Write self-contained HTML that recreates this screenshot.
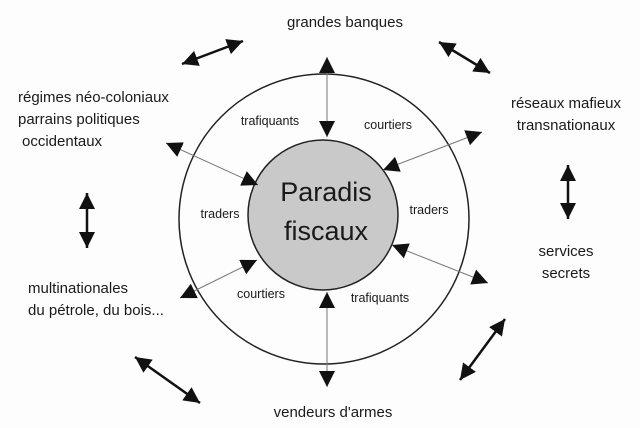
<!DOCTYPE html>
<html><head><style>body{margin:0;background:#fdfdfd}svg{display:block}text{font-family:"Liberation Sans",sans-serif;fill:#1a1a1a}</style></head><body>
<svg width="640" height="428" viewBox="0 0 640 428">
<defs>
<marker id="a" viewBox="0 0 10 10" refX="10" refY="5" markerWidth="16" markerHeight="16" markerUnits="userSpaceOnUse" orient="auto-start-reverse"><path d="M0,0L10,5L0,10z" fill="#111"/></marker>
<marker id="b" viewBox="0 0 10 10" refX="10" refY="5" markerWidth="16" markerHeight="16" markerUnits="userSpaceOnUse" orient="auto-start-reverse"><path d="M0,0L10,5L0,10z" fill="#111"/></marker>
</defs>
<rect width="640" height="428" fill="#fdfdfd"/>
<circle cx="324" cy="219" r="145" fill="none" stroke="#222" stroke-width="1.5"/>
<circle cx="323" cy="215" r="75" fill="#c9c9c9" stroke="#222" stroke-width="1.5"/>
<g stroke="#777" stroke-width="1" fill="none" marker-start="url(#a)" marker-end="url(#a)">
<line x1="327" y1="57" x2="327" y2="137"/>
<line x1="327" y1="292" x2="327" y2="387"/>
<line x1="166" y1="143" x2="258" y2="185"/>
<line x1="482" y1="132" x2="383" y2="170"/>
<line x1="392" y1="245" x2="488" y2="283"/>
<line x1="257" y1="260" x2="180" y2="298"/>
</g>
<g stroke="#111" stroke-width="2.5" fill="none" marker-start="url(#b)" marker-end="url(#b)">
<line x1="182" y1="64" x2="243" y2="41"/>
<line x1="439" y1="42" x2="490" y2="73"/>
<line x1="568" y1="165" x2="568" y2="219"/>
<line x1="87" y1="193" x2="87" y2="248"/>
<line x1="135" y1="357" x2="200" y2="403"/>
<line x1="460" y1="380" x2="505" y2="319"/>
</g>
<g font-size="15">
<text x="345" y="27" text-anchor="middle">grandes banques</text>
<text x="18" y="102">régimes néo-coloniaux</text>
<text x="18" y="124">parrains politiques</text>
<text x="22" y="146">occidentaux</text>
<text x="566" y="108" text-anchor="middle">réseaux mafieux</text>
<text x="566" y="130" text-anchor="middle">transnationaux</text>
<text x="566" y="256" text-anchor="middle">services</text>
<text x="566" y="278" text-anchor="middle">secrets</text>
<text x="28" y="293">multinationales</text>
<text x="28" y="315">du pétrole, du bois...</text>
<text x="333" y="417" text-anchor="middle">vendeurs d'armes</text>
</g>
<g font-size="12.5">
<text x="270" y="125" text-anchor="middle">trafiquants</text>
<text x="388" y="129" text-anchor="middle">courtiers</text>
<text x="220" y="218" text-anchor="middle">traders</text>
<text x="429" y="214" text-anchor="middle">traders</text>
<text x="261" y="298" text-anchor="middle">courtiers</text>
<text x="380" y="302" text-anchor="middle">trafiquants</text>
</g>
<g font-size="27" text-anchor="middle">
<text x="326" y="201">Paradis</text>
<text x="326" y="240">fiscaux</text>
</g>
</svg>
</body></html>
